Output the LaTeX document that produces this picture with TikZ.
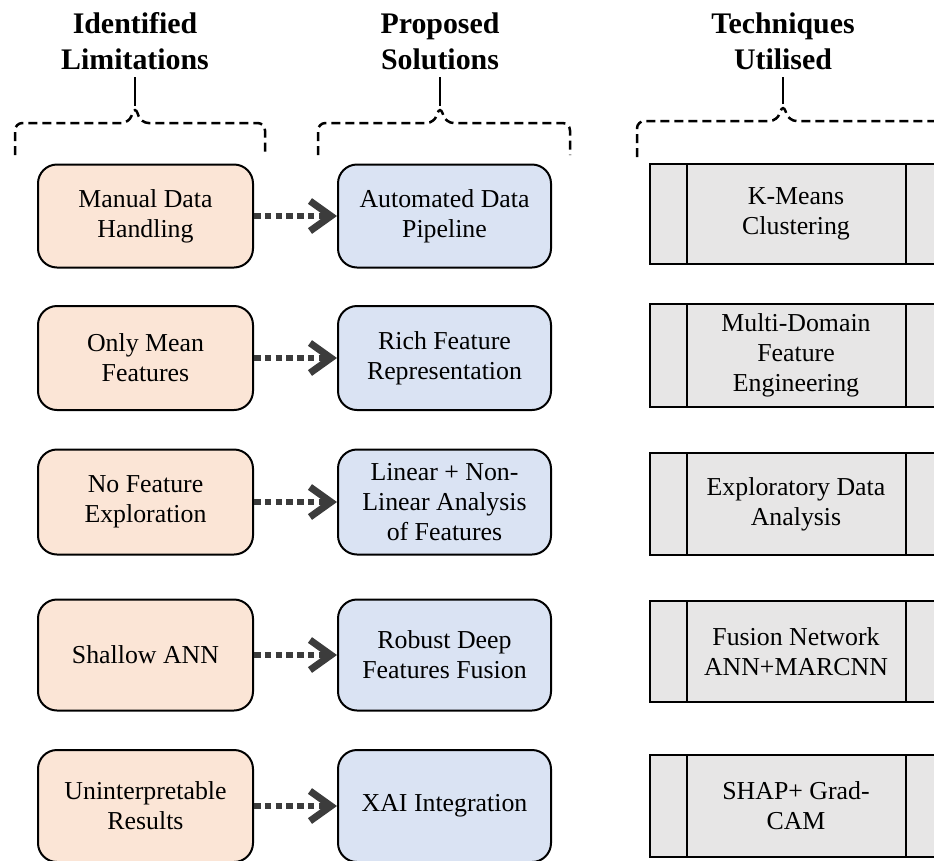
\documentclass[tikz,border=0pt]{standalone}
\usepackage{fontspec}
\setmainfont{Liberation Serif}
\usetikzlibrary{arrows.meta}
\usepackage{xcolor}
\definecolor{limfill}{HTML}{FBE5D6}
\definecolor{solfill}{HTML}{DAE3F3}
\definecolor{tecfill}{HTML}{E7E6E6}
\definecolor{dark}{HTML}{3C3C3C}
\tikzset{
  head/.style={align=center, font=\fontsize{17}{20.4}\selectfont\bfseries, inner sep=1.5mm},
  box/.style={draw=black, line width=0.04cm, rounded corners=0.38cm, align=center, font=\fontsize{14.7}{17}\selectfont},
  limbox/.style={box, fill=limfill, minimum width=4.3cm},
  solbox/.style={box, fill=solfill, minimum width=4.26cm},
  tecbox/.style={draw=black, line width=0.04cm, fill=tecfill, align=center, minimum width=5.86cm, font=\fontsize{14.7}{17}\selectfont,
    path picture={
      \draw[line width=0.04cm] ([xshift=0.74cm]path picture bounding box.north west) -- ([xshift=0.74cm]path picture bounding box.south west);
      \draw[line width=0.04cm] ([xshift=-0.74cm]path picture bounding box.north east) -- ([xshift=-0.74cm]path picture bounding box.south east);
    }},
  brace/.style={draw=black, line width=0.05cm, dash pattern=on 0.18cm off 0.1cm, rounded corners=0.15cm},
  stem/.style={draw=black, line width=0.05cm},
  arrow/.style={-{Straight Barb[length=0.42cm, width=0.6cm, line width=0.14cm]}, line width=0.11cm, dash pattern=on 0.13cm off 0.085cm, draw=dark}
}
\begin{document}
\begin{tikzpicture}
  \useasboundingbox (0,0) rectangle (18.68,-17.2);
  \clip (0,0) rectangle (18.68,-17.2);
  % headers
  \node[head] (hlim) at (2.70,-0.82) {Identified\\Limitations};
  \node[head] (hsol) at (8.80,-0.82) {Proposed\\Solutions};
  \node[head] (htec) at (15.66,-0.82) {Techniques\\Utilised};
  % braces
  \coordinate (limtip) at (2.70,-2.12);
  \coordinate (soltip) at (8.80,-2.12);
  \coordinate (tectip) at (15.66,-2.08);
  \draw[brace] (0.30,-3.10) -- (0.30,-2.46) -- (2.58,-2.46) -- (limtip) -- (2.82,-2.46) -- (5.30,-2.46) -- (5.30,-3.10);
  \draw[brace] (6.36,-3.10) -- (6.36,-2.46) -- (8.68,-2.46) -- (soltip) -- (8.92,-2.46) -- (11.40,-2.46) -- (11.40,-3.10);
  \draw[brace] (12.74,-3.14) -- (12.74,-2.42) -- (15.54,-2.42) -- (tectip) -- (15.78,-2.42) -- (19.20,-2.42) -- (19.20,-3.14);
  \draw[stem] (hlim.south) -- (limtip);
  \draw[stem] (hsol.south) -- (soltip);
  \draw[stem] (htec.south) -- (tectip);
  % identified limitations
  \node[limbox, minimum height=2.06cm] (lim1) at (2.91,-4.32) {Manual Data\\Handling};
  \node[limbox, minimum height=2.08cm] (lim2) at (2.91,-7.16) {Only Mean\\Features};
  \node[limbox, minimum height=2.10cm] (lim3) at (2.91,-10.04) {No Feature\\Exploration};
  \node[limbox, minimum height=2.22cm] (lim4) at (2.91,-13.10) {Shallow ANN};
  \node[limbox, minimum height=2.24cm] (lim5) at (2.91,-16.12) {Uninterpretable\\Results};
  % proposed solutions
  \node[solbox, minimum height=2.06cm] (sol1) at (8.89,-4.32) {Automated Data\\Pipeline};
  \node[solbox, minimum height=2.08cm] (sol2) at (8.89,-7.16) {Rich Feature\\Representation};
  \node[solbox, minimum height=2.10cm] (sol3) at (8.89,-10.04) {Linear + Non-\\Linear Analysis\\of Features};
  \node[solbox, minimum height=2.22cm] (sol4) at (8.89,-13.10) {Robust Deep\\Features Fusion};
  \node[solbox, minimum height=2.24cm] (sol5) at (8.89,-16.12) {XAI Integration};
  % techniques utilised
  \node[tecbox, minimum height=2.00cm] (tec1) at (15.92,-4.28) {K-Means\\Clustering};
  \node[tecbox, minimum height=2.06cm] (tec2) at (15.92,-7.11) {Multi-Domain\\Feature\\Engineering};
  \node[tecbox, minimum height=2.04cm] (tec3) at (15.92,-10.08) {Exploratory Data\\Analysis};
  \node[tecbox, minimum height=2.02cm] (tec4) at (15.92,-13.03) {Fusion Network\\ANN+MARCNN};
  \node[tecbox, minimum height=2.04cm] (tec5) at (15.92,-16.12) {SHAP+ Grad-\\CAM};
  % arrows
  \draw[arrow] (lim1) -- (sol1);
  \draw[arrow] (lim2) -- (sol2);
  \draw[arrow] (lim3) -- (sol3);
  \draw[arrow] (lim4) -- (sol4);
  \draw[arrow] (lim5) -- (sol5);
\end{tikzpicture}
\end{document}
